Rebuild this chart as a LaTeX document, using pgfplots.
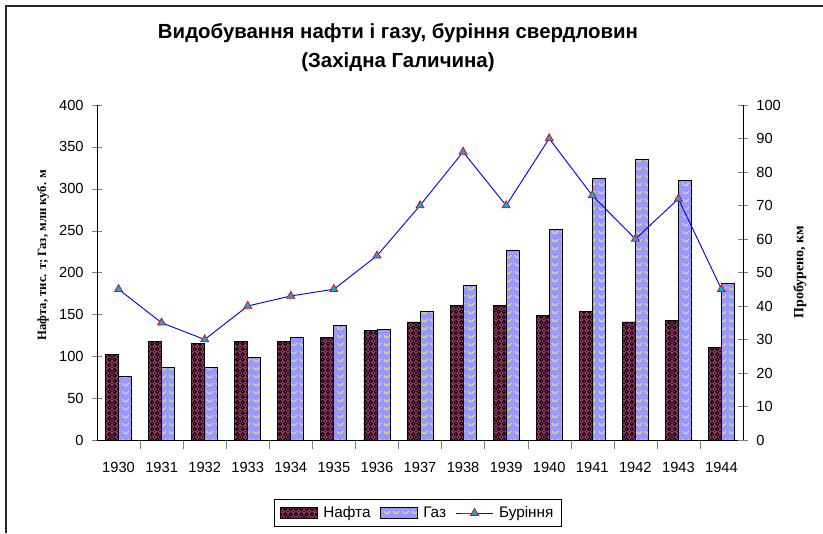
\documentclass[border=0pt]{standalone}
\usepackage{fontspec}
\setmainfont{Liberation Sans}
\newfontfamily\timesf{Liberation Serif}
\usepackage{pgfplots}
\usepackage{pgfplotstable}
\pgfplotsset{compat=1.18}
\usetikzlibrary{patterns}

\definecolor{oilc}{RGB}{153,51,102}
\definecolor{gasc}{RGB}{153,153,255}
\definecolor{gasy}{RGB}{255,255,0}

\pgfdeclarepatternformonly{oilcircles}{\pgfqpoint{-1pt}{-1pt}}{\pgfqpoint{5pt}{5pt}}{\pgfqpoint{4pt}{4pt}}{%
  \pgfsetlinewidth{0.7pt}%
  \pgfpathcircle{\pgfqpoint{2pt}{2pt}}{1.3pt}%
  \pgfusepath{stroke}%
  \pgfpathrectangle{\pgfqpoint{-0.5pt}{-0.5pt}}{\pgfqpoint{1pt}{1pt}}%
  \pgfusepath{fill}%
}
\pgfdeclarepatternformonly{gaswaves}{\pgfqpoint{-1pt}{-1pt}}{\pgfqpoint{8pt}{7pt}}{\pgfqpoint{7pt}{6pt}}{%
  \pgfsetlinewidth{0.6pt}%
  \pgfpathmoveto{\pgfqpoint{1pt}{4.5pt}}%
  \pgfpathcurveto{\pgfqpoint{1.5pt}{2pt}}{\pgfqpoint{4.5pt}{2pt}}{\pgfqpoint{5.5pt}{4.5pt}}%
  \pgfusepath{stroke}%
}

\pgfplotstableread{
x year oil gas drill
0  1930 102 76  45
1  1931 118 87  35
2  1932 115 87  30
3  1933 118 99  40
4  1934 118 123 43
5  1935 123 137 45
6  1936 131 132 55
7  1937 141 154 70
8  1938 161 185 86
9  1939 161 227 70
10 1940 149 251 90
11 1941 153 312 73
12 1942 141 335 60
13 1943 143 310 72
14 1944 110 187 45
}\datatable

\begin{document}
\begin{tikzpicture}
\useasboundingbox (0,0) rectangle (617.25pt,-399.75pt);
\draw[line width=1.3pt, black!85] (4.6pt,-399.75pt) -- (4.6pt,-4.6pt) -- (617.25pt,-4.6pt);

\node[font=\fontsize{15.3}{21.75}\selectfont\bfseries, align=center] at (298.5pt,-36pt)
  {Видобування нафти і газу, буріння свердловин\\(Західна Галичина)};

\begin{axis}[
  at={(72.75pt,-330pt)}, anchor=south west,
  scale only axis, width=484.5pt, height=251.25pt,
  xmin=-0.5, xmax=14.5, ymin=0, ymax=400,
  axis x line*=bottom, axis y line*=left,
  axis line style={line width=0.6pt},
  tick align=center,
  xtick={0,...,14},
  xticklabels={1930,1931,1932,1933,1934,1935,1936,1937,1938,1939,1940,1941,1942,1943,1944},
  major x tick style={draw=none},
  minor xtick={0.5,1.5,...,13.5},
  minor tick length=7pt,
  major tick length=7pt,
  xticklabel style={font=\fontsize{11}{12}\selectfont, yshift=-6pt},
  ytick={0,50,...,400},
  yticklabel style={font=\fontsize{11}{12}\selectfont, xshift=-3pt},
  /pgf/number format/assume math mode=true,
  ylabel={Нафта, тис. т; Газ, млн куб. м},
  ylabel style={font=\timesf\bfseries\fontsize{9.5}{11}\selectfont, at={(axis description cs:-0.0836,0.552)}, anchor=center},
  ybar=0pt, bar width=9.75pt,
  legend style={at={(axis description cs:0.497,-0.218)}, anchor=center, legend columns=3,
    draw=black, line width=0.6pt, font=\fontsize{11.5}{13}\selectfont,
    inner ysep=3pt, inner xsep=4pt,
    /tikz/every odd column/.append style={column sep=2pt},
    /tikz/every even column/.append style={column sep=5pt}},
  legend image code/.code={\draw[#1,line width=0.5pt] (0pt,-3.8pt) rectangle (28pt,4pt);},
  clip=false,
]
\addplot[draw=black, line width=0.6pt, fill=oilc, postaction={pattern=oilcircles, pattern color=black}]
  table[x=x, y=oil] {\datatable};
\addlegendentry{Нафта}
\addplot[draw=black, line width=0.6pt, fill=gasc, postaction={pattern=gaswaves, pattern color=gasy}]
  table[x=x, y=gas] {\datatable};
\addlegendentry{Газ}
\addlegendimage{legend image code/.code={
  \draw[blue, line width=0.7pt] (0pt,0pt) -- (28pt,0pt);
  \draw[red, fill=cyan, line width=0.6pt] plot[mark=triangle*, mark size=3.5pt] coordinates {(14pt,0pt)};}}
\addlegendentry{Буріння}
\end{axis}

\begin{axis}[
  at={(72.75pt,-330pt)}, anchor=south west,
  scale only axis, width=484.5pt, height=251.25pt,
  xmin=-0.5, xmax=14.5, ymin=0, ymax=100,
  axis x line=none, axis y line*=right,
  axis line style={line width=0.6pt},
  tick align=center, major tick length=7pt,
  ytick={0,10,...,100},
  yticklabel style={font=\fontsize{11}{12}\selectfont, xshift=3pt},
  /pgf/number format/assume math mode=true,
  ylabel={Пробурено, км},
  ylabel style={font=\timesf\bfseries\fontsize{10.5}{12}\selectfont, at={(axis description cs:1.088,0.501)}, anchor=center, rotate=0},
  clip=false,
]
\addplot[blue, line width=0.7pt, mark=triangle*, mark size=3.5pt, mark options={draw=red, fill=cyan, line width=0.6pt}]
  table[x=x, y=drill] {\datatable};
\end{axis}
\end{tikzpicture}
\end{document}
